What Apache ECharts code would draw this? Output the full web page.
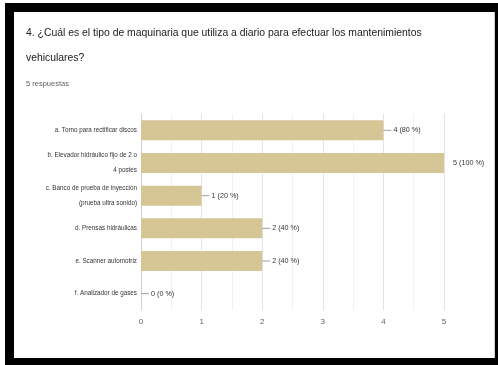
<!DOCTYPE html>
<html>
<head>
<meta charset="utf-8">
<script src="https://cdn.jsdelivr.net/npm/echarts@6/dist/echarts.min.js"></script>
<style>
  html, body { margin: 0; padding: 0; background: #fff; }
  #chart { width: 498px; height: 365px; }
</style>
</head>
<body>
<div id="chart"></div>
<script>
// Survey question 4: machinery used daily for vehicle maintenance
const questionTitle = '4. ¿Cuál es el tipo de maquinaria que utiliza a diario para efectuar los mantenimientos\nvehiculares?';
const responsesText = '5 respuestas';
const totalResponses = 5;

const categories = [
  'a. Torno para rectificar discos',
  'b. Elevador hidráulico fijo de 2 o\n4 postes',
  'c. Banco de prueba de inyección\n(prueba ultra sonido)',
  'd. Prensas hidráulicas',
  'e. Scanner automotriz',
  'f. Analizador de gases'
];
const counts = [4, 5, 1, 2, 2, 0];
const xTicks = [0, 1, 2, 3, 4, 5];

const FONT = '"Liberation Sans Narrow", "Liberation Sans", Arial, sans-serif';
const maxCount = Math.max(...counts);

const chart = echarts.init(document.getElementById('chart'), null, { renderer: 'canvas' });

chart.setOption({
  backgroundColor: '#fff',
  animation: false,
  title: [
    {
      text: questionTitle,
      left: 26,
      top: 21,
      padding: 0,
      textStyle: { fontFamily: FONT, fontSize: 10.4, fontWeight: 'normal', color: '#202124', lineHeight: 25 }
    },
    {
      text: responsesText,
      left: 26,
      top: 80,
      padding: 0,
      textStyle: { fontFamily: FONT, fontSize: 7.5, fontWeight: 'normal', color: '#5f6368' }
    }
  ],
  grid: { left: 141, right: 54, top: 114, bottom: 55, containLabel: false },
  xAxis: {
    type: 'value',
    min: xTicks[0],
    max: xTicks[xTicks.length - 1],
    interval: 1,
    axisLine: { show: false },
    axisTick: { show: false },
    axisLabel: { fontFamily: FONT, fontSize: 8, color: '#5f6368', margin: 8 },
    splitLine: { show: true, lineStyle: { color: '#e4e4e4', width: 1 } },
    minorTick: { show: false, splitNumber: 2 },
    minorSplitLine: { show: true, lineStyle: { color: '#f1f1f1', width: 1 } }
  },
  yAxis: {
    type: 'category',
    data: categories,
    inverse: true,
    axisLine: { show: true, lineStyle: { color: '#cfcfcf', width: 1 } },
    axisTick: { show: false },
    axisLabel: {
      fontFamily: FONT, fontSize: 6.3, color: '#333', margin: 4,
      lineHeight: 15, align: 'right'
    },
    splitLine: { show: false }
  },
  series: [
    {
      type: 'bar',
      data: counts,
      barWidth: 20,
      itemStyle: { color: '#d6c595' },
      silent: true
    },
    {
      // value annotations with a short leader line, e.g. "4 (80 %)"
      type: 'custom',
      data: counts.map((v, i) => [v, i]),
      encode: { x: 0, y: 1 },
      silent: true,
      z: 5,
      renderItem: function (params, api) {
        const v = api.value(0);
        const p = api.coord([v, api.value(1)]);
        const pct = Math.round(v / totalResponses * 100);
        const children = [];
        const isMax = v === maxCount;
        if (!isMax) {
          children.push({
            type: 'line',
            shape: { x1: p[0], y1: p[1], x2: p[0] + 8, y2: p[1] },
            style: { stroke: '#9e9e9e', lineWidth: 1 }
          });
        }
        children.push({
          type: 'text',
          x: p[0] + (isMax ? 9 : 10),
          y: p[1],
          style: {
            text: v + ' (' + pct + ' %)',
            fontFamily: FONT,
            fontSize: 7.2,
            fill: '#333',
            verticalAlign: 'middle',
            align: 'left'
          }
        });
        return { type: 'group', children: children };
      }
    }
  ],
  graphic: [
    // black frame around the card
    { type: 'rect', shape: { x: 5, y: 3, width: 9, height: 362 }, style: { fill: '#000' }, silent: true },
    { type: 'rect', shape: { x: 5, y: 3, width: 493, height: 9 }, style: { fill: '#000' }, silent: true },
    { type: 'rect', shape: { x: 495, y: 3, width: 3, height: 362 }, style: { fill: '#000' }, silent: true },
    { type: 'rect', shape: { x: 5, y: 358, width: 493, height: 7 }, style: { fill: '#000' }, silent: true },
    { type: 'rect', shape: { x: 494, y: 12, width: 1, height: 346 }, style: { fill: '#d0d0d0' }, silent: true }
  ]
});
</script>
</body>
</html>
